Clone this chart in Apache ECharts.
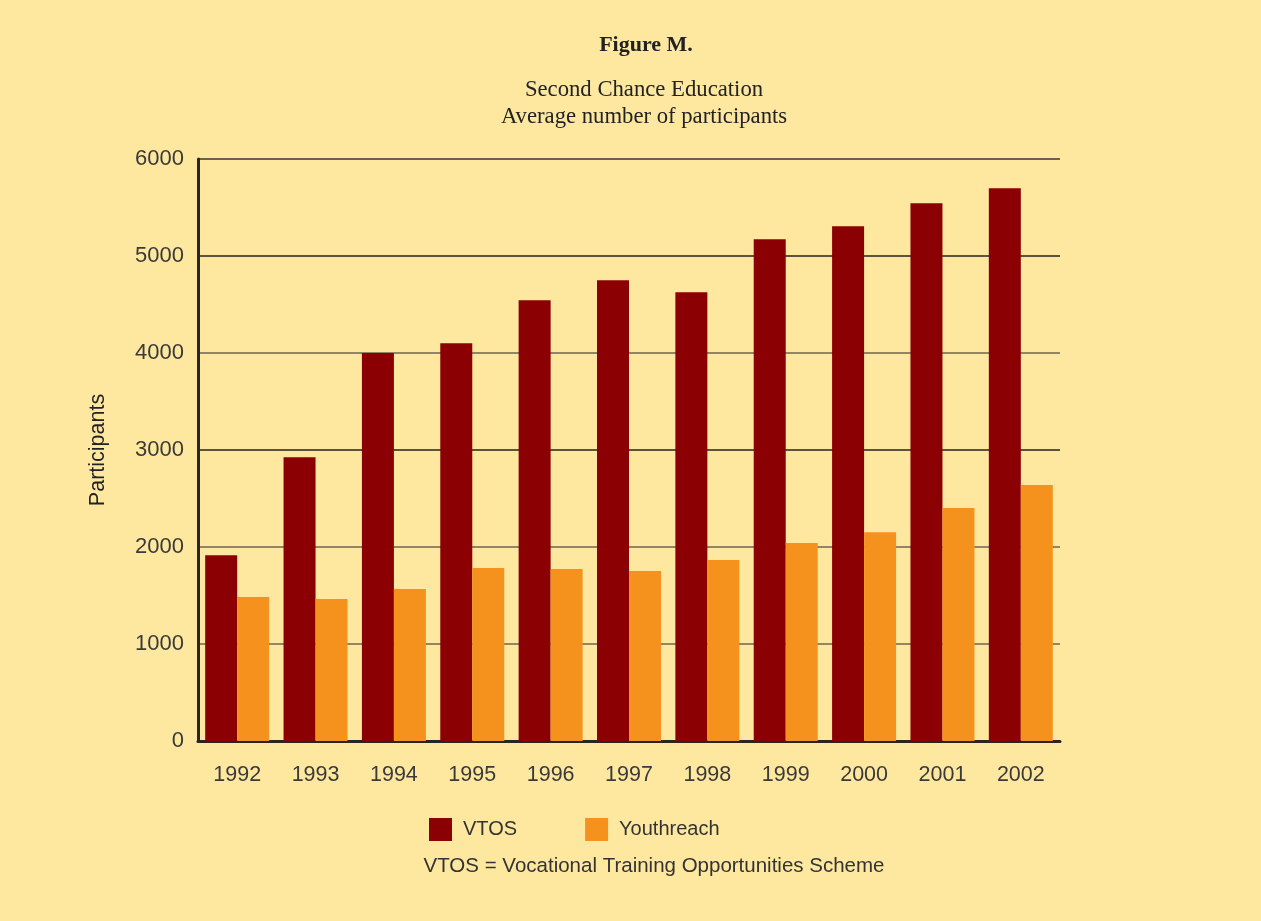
<!DOCTYPE html>
<html>
<head>
<meta charset="utf-8">
<script src="https://cdn.jsdelivr.net/npm/echarts@6/dist/echarts.min.js"></script>
<style>
html,body{margin:0;padding:0;background:#FEE8A0;}
#c{width:1261px;height:921px;}
</style>
</head>
<body>
<div id="c"></div>
<script>
const years = ['1992','1993','1994','1995','1996','1997','1998','1999','2000','2001','2002'];
const vtos = [1916, 2926, 4001, 4101, 4544, 4750, 4626, 5172, 5306, 5544, 5698];
const youthreach = [1484, 1463, 1566, 1783, 1772, 1752, 1865, 2040, 2153, 2401, 2638];
const yTicks = [0, 1000, 2000, 3000, 4000, 5000, 6000];

const chart = echarts.init(document.getElementById('c'), null, {renderer: 'canvas'});
const sans = '"Liberation Sans", Arial, sans-serif';
const serif = '"Liberation Serif", "Times New Roman", serif';
chart.setOption({
  backgroundColor: '#FEE8A0',
  animation: false,
  graphic: [
    {type: 'text', x: 646, y: 45, style: {text: 'Figure M.', align: 'center', verticalAlign: 'middle',
      font: 'bold 22px ' + serif, fill: '#222'}},
    {type: 'text', x: 644, y: 90, style: {text: 'Second Chance Education', align: 'center', verticalAlign: 'middle',
      font: '22.7px ' + serif, fill: '#222'}},
    {type: 'text', x: 644, y: 117, style: {text: 'Average number of participants', align: 'center', verticalAlign: 'middle',
      font: '22.7px ' + serif, fill: '#222'}},
    {type: 'text', x: 654, y: 866, style: {text: 'VTOS = Vocational Training Opportunities Scheme', align: 'center', verticalAlign: 'middle',
      font: '20.5px ' + sans, fill: '#333'}}
  ],
  legend: {
    data: ['VTOS', 'Youthreach'],
    left: 424, top: 813,
    itemWidth: 23, itemHeight: 23, itemGap: 68,
    icon: 'rect',
    textStyle: {fontFamily: sans, fontSize: 20, color: '#333', padding: [0,0,0,6]}
  },
  grid: {left: 198, right: 201, top: 159, bottom: 180, containLabel: false},
  xAxis: {
    type: 'category', data: years,
    axisLine: {lineStyle: {color: '#2a2520', width: 3}},
    axisTick: {show: false},
    axisLabel: {fontFamily: sans, fontSize: 21.5, color: '#3a3a3a', margin: 23}
  },
  yAxis: {
    type: 'value', min: yTicks[0], max: yTicks[yTicks.length-1], interval: 1000,
    name: 'Participants', nameLocation: 'middle', nameGap: 89, nameRotate: 90,
    nameTextStyle: {fontFamily: sans, fontSize: 21.5, color: '#222'},
    axisLine: {show: true, lineStyle: {color: '#2a2520', width: 3}},
    axisTick: {show: false},
    axisLabel: {fontFamily: sans, fontSize: 22, color: '#3a3a3a', margin: 14,
      formatter: function (v) { return String(v); }, padding: [4,0,0,0]},
    splitLine: {show: true, lineStyle: {width: 1.6, color: ['#2a2520','#6e6552','#6e6552','#222','#6e6552','#222','#3a3530']}}
  },
  series: [
    {name: 'VTOS', type: 'bar', data: vtos, barWidth: 32, barGap: '0%',
     itemStyle: {color: '#8B0003'}},
    {name: 'Youthreach', type: 'bar', data: youthreach, barWidth: 32, barGap: '0%',
     itemStyle: {color: '#F5921E'}}
  ]
});
</script>
</body>
</html>
